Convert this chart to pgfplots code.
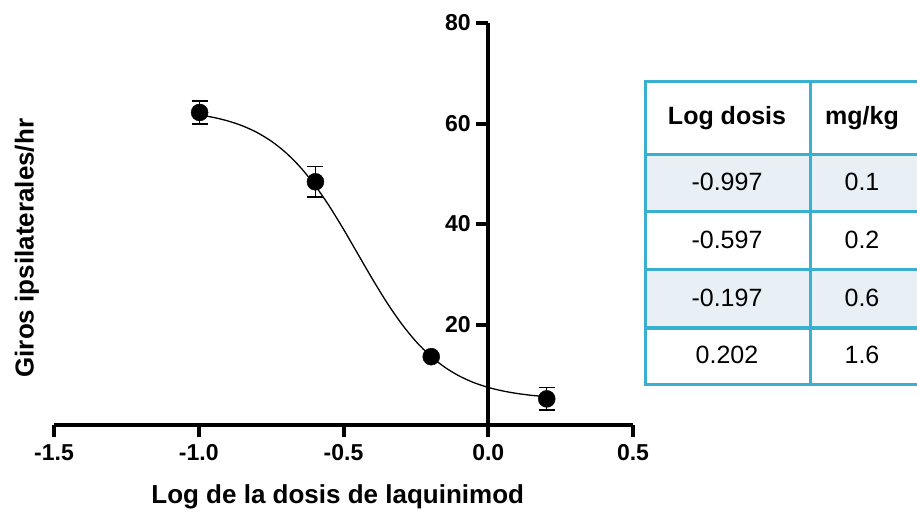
\documentclass[border=0pt]{standalone}
\usepackage{pgfplots}
\pgfplotsset{compat=1.18}
\usepackage{fontspec}
\setmainfont{Liberation Sans}
\definecolor{tblborder}{HTML}{3AB0D0}
\definecolor{tblshade}{HTML}{E8F0F5}
\begin{document}
\begin{tikzpicture}
\useasboundingbox (-54pt,-89pt) rectangle (863pt,425pt);
\begin{axis}[
  at={(0,0)}, anchor=south west,
  scale only axis, width=579pt, height=402pt,
  xmin=-1.5, xmax=0.5, ymin=0, ymax=80,
  axis x line*=middle, axis y line*=middle,
  hide obscured x ticks=false, hide obscured y ticks=false,
  xtick={-1.5,-1,-0.5,0,0.5},
  xticklabels={-1.5,-1.0,-0.5,0.0,0.5},
  ytick={20,40,60,80},
  tick align=outside,
  major tick length=12pt,
  axis line style={line width=4pt, black},
  every tick/.style={line width=4pt, black},
  /pgf/number format/assume math mode=true,
  tick label style={font=\fontsize{23}{26}\selectfont\bfseries},
  xticklabel style={yshift=-4pt},
  yticklabel style={xshift=-2pt},
  xlabel={Log de la dosis de laquinimod},
  ylabel={Giros ipsilaterales/hr},
  every axis x label/.style={at={(rel axis cs:0.49,0)}, yshift=-72pt, anchor=center, font=\fontsize{26}{30}\selectfont\bfseries},
  every axis y label/.style={at={(rel axis cs:0,0.44)}, xshift=-27pt, rotate=90, anchor=center, font=\fontsize{26}{30}\selectfont\bfseries},
  clip=false,
]
\addplot[black, line width=1.3pt, smooth, no marks] coordinates {
(-0.997,61.70) (-0.95,61.22) (-0.90,60.52) (-0.85,59.56) (-0.80,58.25)
(-0.75,56.51) (-0.70,54.24) (-0.65,51.36) (-0.60,47.81) (-0.55,43.64)
(-0.50,38.96) (-0.45,34.00) (-0.40,29.04) (-0.35,24.36) (-0.30,20.19)
(-0.25,16.64) (-0.20,13.76) (-0.15,11.49) (-0.10,9.75) (-0.05,8.44)
(0.00,7.48) (0.05,6.78) (0.10,6.27) (0.15,5.90) (0.202,5.64)
};
\addplot[black, only marks, mark=*, mark size=8.5pt,
  error bars/.cd, y dir=both, y explicit,
  error bar style={line width=1.3pt, black},
  error mark options={rotate=90, mark size=8pt, line width=1.3pt, black}]
  coordinates {
(-0.997,62.2) +- (0,2.3)
(-0.597,48.4) +- (0,3.05)
(-0.197,13.6) +- (0,0)
(0.202,5.2) +- (0,2.2)
};
\end{axis}
% table
\fill[tblshade] (591pt,213pt) rectangle (866pt,270pt);
\fill[tblshade] (591pt,97pt) rectangle (866pt,155pt);
\begin{scope}[line width=3pt, draw=tblborder]
\draw[tblborder] (591pt,343pt) rectangle (866pt,41pt);
\foreach \yy in {270,213,155,97} {\draw[tblborder] (591pt,\yy pt) -- (866pt,\yy pt);}
\draw[tblborder] (756pt,343pt) -- (756pt,41pt);
\end{scope}
\begin{scope}[every node/.style={font=\fontsize{25}{30}\selectfont, anchor=center}]
\node[font=\fontsize{25}{30}\selectfont\bfseries] at (673pt,307pt) {Log dosis};
\node[font=\fontsize{25}{30}\selectfont\bfseries] at (808pt,307pt) {mg/kg};
\node at (673pt,243pt) {-0.997};
\node at (808pt,243pt) {0.1};
\node at (673pt,185pt) {-0.597};
\node at (808pt,185pt) {0.2};
\node at (673pt,127pt) {-0.197};
\node at (808pt,127pt) {0.6};
\node at (673pt,70pt) {0.202};
\node at (808pt,70pt) {1.6};
\end{scope}
\end{tikzpicture}
\end{document}
